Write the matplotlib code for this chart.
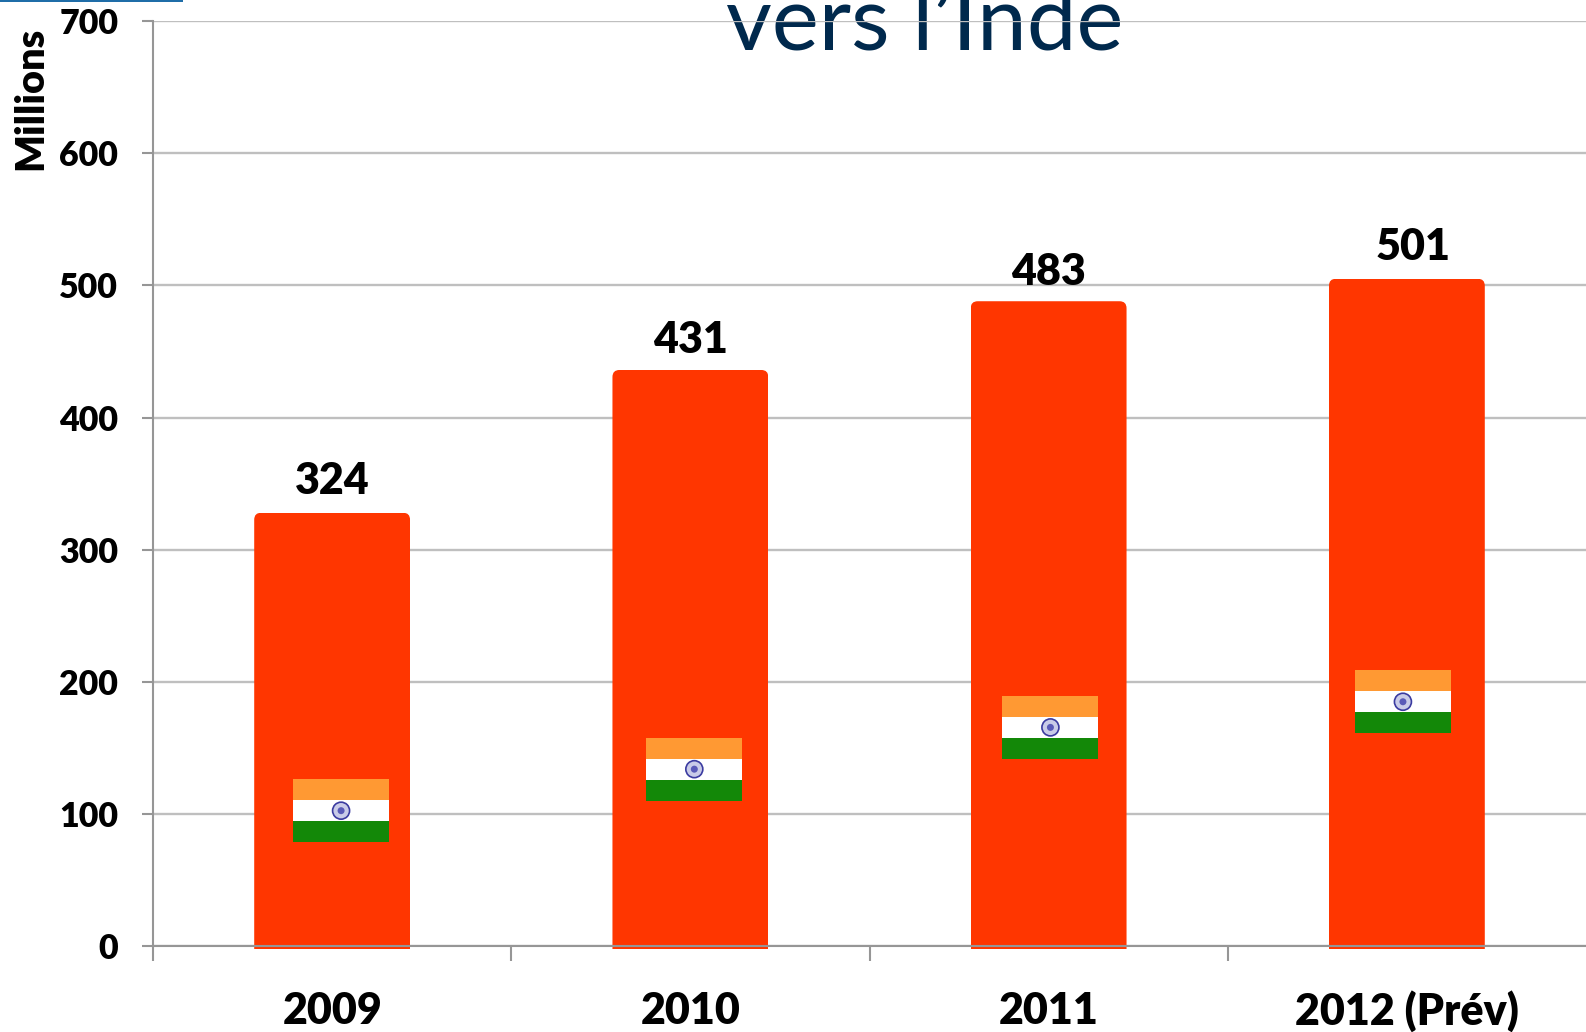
import matplotlib
matplotlib.use("Agg")
import matplotlib.pyplot as plt
from matplotlib.patches import FancyBboxPatch, Rectangle, Ellipse

plt.rcParams['font.family'] = ['Lato', 'DejaVu Sans']

# Data
years = ["2009", "2010", "2011", "2012 (Prév)"]
labels = [324, 431, 483, 501]
bar_tops = [328, 436, 488, 505]  # bars stand a bit higher than their labels
y_ticks = [0, 100, 200, 300, 400, 500, 600, 700]

# Where the flags sit, data coordinates
flag_x = [0.025, 1.011, 2.005, 2.989]
flag_y = [102.6, 134, 165.6, 185]

W, H = 1586, 1032
LEFT, TOP, BOTTOM = 153, 21, 946.3
BAR_W = 0.435
NAVY = "#00294D"
RED = "#FF3600"
AXIS_GRAY = "#969696"
WEIGHT = 800

fig = plt.figure(figsize=(W / 100, H / 100), dpi=100)
ax = fig.add_axes([LEFT / W, 1 - BOTTOM / H, (W - LEFT) / W, (BOTTOM - TOP) / H])
ax.set_xlim(-0.5, 3.5)
ax.set_ylim(0, 700)
ax.set_axisbelow(True)

px_x = (W - LEFT) / 4      # pixels per category
px_y = (BOTTOM - TOP) / 700  # pixels per million
x = list(range(len(years)))

ax.grid(axis='y', color="#BFBFBF", linewidth=1.7)
ax.grid(axis='x', visible=False)

# Bars, the top corners rounded by clipping
bars = ax.bar(x, [t + 2 for t in bar_tops], bottom=-2, width=BAR_W, color=RED, zorder=1)
for i, (bar, top) in enumerate(zip(bars, bar_tops)):
    cap = FancyBboxPatch((i - BAR_W / 2, -30), BAR_W, top + 30,
                         boxstyle="round,pad=0,rounding_size=%f" % (7 / px_x),
                         mutation_aspect=px_x / px_y,
                         transform=ax.transData)
    bar.set_clip_box(None)  # the foot goes just below the axis
    bar.set_clip_path(cap)

# Flags
flag_w = 96 / px_x
band_h = 21 / px_y
for fx, fy in zip(flag_x, flag_y):
    for k, col in enumerate(["#138808", "white", "#FF9933"]):
        ax.add_patch(Rectangle((fx - flag_w / 2, fy - 1.5 * band_h + k * band_h), flag_w, band_h,
                               fc=col, ec="none", zorder=3))
    ax.add_patch(Ellipse((fx, fy), 17 / px_x, 17 / px_y, fc="#C9CBE8", ec="#3B3BA0", lw=1.2, zorder=4))
    ax.add_patch(Ellipse((fx, fy), 7 / px_x, 7 / px_y, fc="#5A5AB8", ec="none", zorder=5))

# Value labels
label_dx = [0, 0, 0, 0.017]
label_py = [481, 340, 272, 247]
for i, v in enumerate(labels):
    ax.text(i + label_dx[i], (BOTTOM - label_py[i]) / px_y, str(v), ha='center', va='center',
            fontsize=31, fontweight=WEIGHT, color='black', zorder=6)

# Axes
for s in ['top', 'right']:
    ax.spines[s].set_visible(False)
for s in ['left', 'bottom']:
    ax.spines[s].set_color(AXIS_GRAY)
    ax.spines[s].set_linewidth(1.5)

ax.set_yticks(y_ticks)
ax.set_yticklabels([str(t) for t in y_ticks], fontsize=24.5, fontweight=WEIGHT)
ax.tick_params(axis='y', length=8, width=1.5, color=AXIS_GRAY, pad=17)

ax.set_xticks([-0.5, 0.5, 1.5, 2.5])
ax.set_xticklabels([])
ax.tick_params(axis='x', length=11, width=1.5, color=AXIS_GRAY)
for i, y in enumerate(years):
    ax.text(i, -(1011 - BOTTOM) / px_y, y, ha='center', va='center', fontsize=31,
            fontweight=WEIGHT, color='black', clip_on=False)

ax.text(-0.5 - 122 / px_x, (BOTTOM - 98) / px_y, "Millions", rotation=90, ha='center', va='center',
        fontsize=28.5, fontweight=WEIGHT, color='black', clip_on=False)

# Title, cut by the top of the picture, grid runs over it
ax.text((925 - LEFT) / px_x - 0.5, (BOTTOM - 50) / px_y, "vers l\u2019Inde", ha='center', va='baseline',
        fontsize=64, color=NAVY, clip_on=False, zorder=0.4)

# Blue line left over at the top corner
fig.add_artist(Rectangle((0, 1 - 2 / H), 183 / W, 2 / H, transform=fig.transFigure, fc="#1F6DA8", ec="none"))

fig.savefig("out.png", dpi=100)
